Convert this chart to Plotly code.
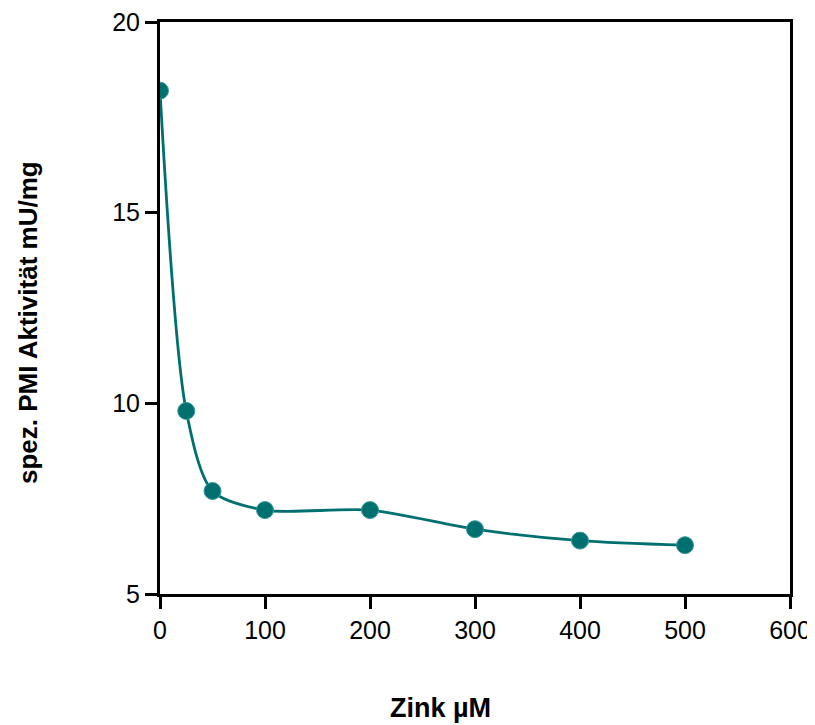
import plotly.graph_objects as go

zink = [0, 25, 50, 100, 200, 300, 400, 500]
aktivitaet = [18.2, 9.8, 7.7, 7.2, 7.2, 6.7, 6.4, 6.28]

x_title = "Zink µM"
y_title = "spez. PMI Aktivität mU/mg"

teal = "#006f70"

fig = go.Figure()
fig.add_trace(go.Scatter(
    x=zink, y=aktivitaet, mode="lines+markers",
    line=dict(color=teal, width=2.8, shape="spline", smoothing=0.8),
    marker=dict(color=teal, size=17, line=dict(color="#3a9a9a", width=1)),
    showlegend=False,
))

axis_common = dict(
    showline=True, linecolor="black", linewidth=3, mirror=True,
    ticks="outside", ticklen=12, tickwidth=3, tickcolor="black",
    showgrid=False, zeroline=False, automargin=False,
    ticklabeloverflow="allow",
    tickfont=dict(family="Liberation Sans, Arial", size=25, color="black"),
)

title_font = dict(family="Liberation Sans, Arial", size=26, color="black")

fig.update_xaxes(range=[0, 600], tickvals=[0, 100, 200, 300, 400, 500, 600],
                 **axis_common)
fig.update_yaxes(range=[5, 20], tickvals=[5, 10, 15, 20],
                 **axis_common)

fig.add_annotation(text="<b>" + x_title + "</b>", xref="paper", yref="paper",
                   x=0.446, y=-0.1985, xanchor="center", yanchor="middle",
                   showarrow=False, font=dict(family="Liberation Sans, Arial", size=27, color="black"))
fig.add_annotation(text="<b>" + y_title + "</b>", xref="paper", yref="paper",
                   x=-0.2095, y=0.4738, xanchor="center", yanchor="middle", textangle=-90,
                   showarrow=False, font=title_font)

fig.update_layout(
    width=822, height=740,
    margin=dict(l=152, r=40, t=14, b=154),
    plot_bgcolor="white", paper_bgcolor="white",
)

fig.write_html("out.html")
